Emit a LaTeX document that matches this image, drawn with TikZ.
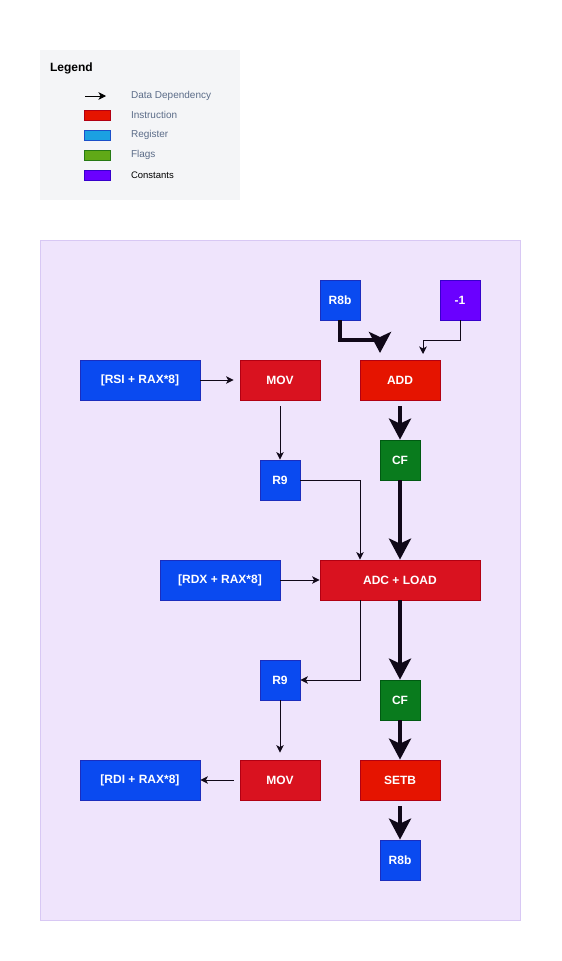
\documentclass[tikz,border=0pt]{standalone}
\usepackage{fontspec}
\setmainfont{Liberation Sans}
\usetikzlibrary{arrows.meta}
\definecolor{regblue}{HTML}{0A4AF0}
\definecolor{regline}{HTML}{1B2DBE}
\definecolor{insred}{HTML}{D9121F}
\definecolor{addred}{HTML}{E51400}
\definecolor{insline}{HTML}{B20012}
\definecolor{flggreen}{HTML}{097B1D}
\definecolor{flgline}{HTML}{005A12}
\definecolor{cstviolet}{HTML}{6A00FF}
\definecolor{cstline}{HTML}{3700CC}
\definecolor{legbg}{HTML}{F4F5F7}
\definecolor{legtext}{HTML}{5B6C88}
\definecolor{lgblue}{HTML}{1BA1E2}
\definecolor{lggreen}{HTML}{60A917}
\definecolor{lgred}{HTML}{E51400}
\definecolor{panelbg}{HTML}{EFE4FC}
\definecolor{panelline}{HTML}{D8C8F4}
\definecolor{edgecol}{HTML}{100818}
\tikzset{
  blk/.style={draw, line width=0.8pt, text=white, font=\bfseries\fontsize{12}{14}\selectfont, inner sep=0pt, minimum height=40pt},
  reg/.style={blk, fill=regblue, draw=regline},
  ins/.style={blk, fill=insred, draw=insline},
  flg/.style={blk, fill=flggreen, draw=flgline, minimum width=40pt},
  cst/.style={blk, fill=cstviolet, draw=cstline, minimum width=40pt},
  swatch/.style={draw, line width=0.8pt, minimum width=26pt, minimum height=10pt, inner sep=0pt},
  legtxt/.style={anchor=west, font=\fontsize{10}{12}\selectfont, text=legtext},
  dep/.style={-{Stealth[length=7.5pt, width=7.5pt, inset=2pt]}, line width=0.9pt, draw=edgecol},
  flow/.style={-{Stealth[length=21pt, width=22pt, inset=5pt]}, line width=4pt, draw=edgecol},
}

\begin{document}
\begin{tikzpicture}[x=1pt, y=-1pt]
    \useasboundingbox (0,0) rectangle (562,961);
    % legend
    \fill[legbg] (40,50) rectangle (240,200);
    \node[anchor=west, font=\bfseries\fontsize{12}{14}\selectfont] (legtitle) at (46.5,68) {Legend};
    \coordinate (la) at (85,96);
    \coordinate (lb) at (106,96);
    \draw[dep, draw=black] (la) -- (lb);
    \node[legtxt] (ldep) at (127.5,96) {Data Dependency};
    \node[swatch, fill=lgred, draw=insline] (lins) at (97.5,115) {};
    \node[legtxt] (tins) at (127.5,115) {Instruction};
    \node[swatch, fill=lgblue, draw=regline!70!lgblue] (lreg) at (97.5,135) {};
    \node[legtxt] (treg) at (127.5,135) {Register};
    \node[swatch, fill=lggreen, draw=flgline!60!lggreen] (lflg) at (97.5,155) {};
    \node[legtxt] (tflg) at (127.5,155) {Flags};
    \node[swatch, fill=cstviolet, draw=cstline] (lcst) at (97.5,175) {};
    \node[legtxt, text=black, font=\fontsize{9.5}{11}\selectfont] (tcst) at (127.5,175) {Constants};

    % panel
    \filldraw[fill=panelbg, draw=panelline, line width=0.8pt] (40,240) rectangle (520,920);

    % nodes
    \node[reg, minimum width=40pt] (r8a) at (340,300) {R8b};
    \node[cst] (neg) at (460,300) {-1};
    \node[reg, minimum width=120pt] (rsi) at (140,380) {[RSI + RAX*8]};
    \node[ins, minimum width=80pt] (mova) at (280,380) {MOV};
    \node[ins, fill=addred, minimum width=80pt] (add) at (400,380) {ADD};
    \node[flg] (cfa) at (400,460) {CF};
    \node[reg, minimum width=40pt] (r9a) at (280,480) {R9};
    \node[reg, minimum width=120pt] (rdx) at (220,580) {[RDX + RAX*8]};
    \node[ins, minimum width=160pt] (adc) at (400,580) {ADC + LOAD};
    \node[reg, minimum width=40pt] (r9b) at (280,680) {R9};
    \node[flg] (cfb) at (400,700) {CF};
    \node[reg, minimum width=120pt] (rdi) at (140,780) {[RDI + RAX*8]};
    \node[ins, minimum width=80pt] (movb) at (280,780) {MOV};
    \node[ins, fill=addred, minimum width=80pt] (setb) at (400,780) {SETB};
    \node[reg, minimum width=40pt] (r8b) at (400,860) {R8b};

    % thin dependencies
    \draw[dep, shorten >=6pt] (neg.south) |- (423,340) -- (423,360);
    \draw[dep, shorten >=6pt] (rsi.east) -- (mova.west);
    \draw[dep, shorten <=6pt] (mova.south) -- (r9a.north);
    \draw[dep] (r9a.east) -| (adc.north -| 360,0);
    \draw[dep] (rdx.east) -- (adc.west);
    \draw[dep] (adc.south -| 360,0) |- (r9b.east);
    \draw[dep, shorten >=7pt] (r9b.south) -- (movb.north);
    \draw[dep, shorten <=6pt] (movb.west) -- (rdi.east);

    % flag flow
    \draw[flow, shorten >=7pt] (r8a.south) |- (380,340) -- (380,360);
    \draw[flow, shorten <=6pt] (add.south) -- (cfa.north);
    \draw[flow] (cfa.south) -- (adc.north);
    \draw[flow] (adc.south) -- (cfb.north);
    \draw[flow] (cfb.south) -- (setb.north);
    \draw[flow, shorten <=6pt] (setb.south) -- (r8b.north);
\end{tikzpicture}
\end{document}
